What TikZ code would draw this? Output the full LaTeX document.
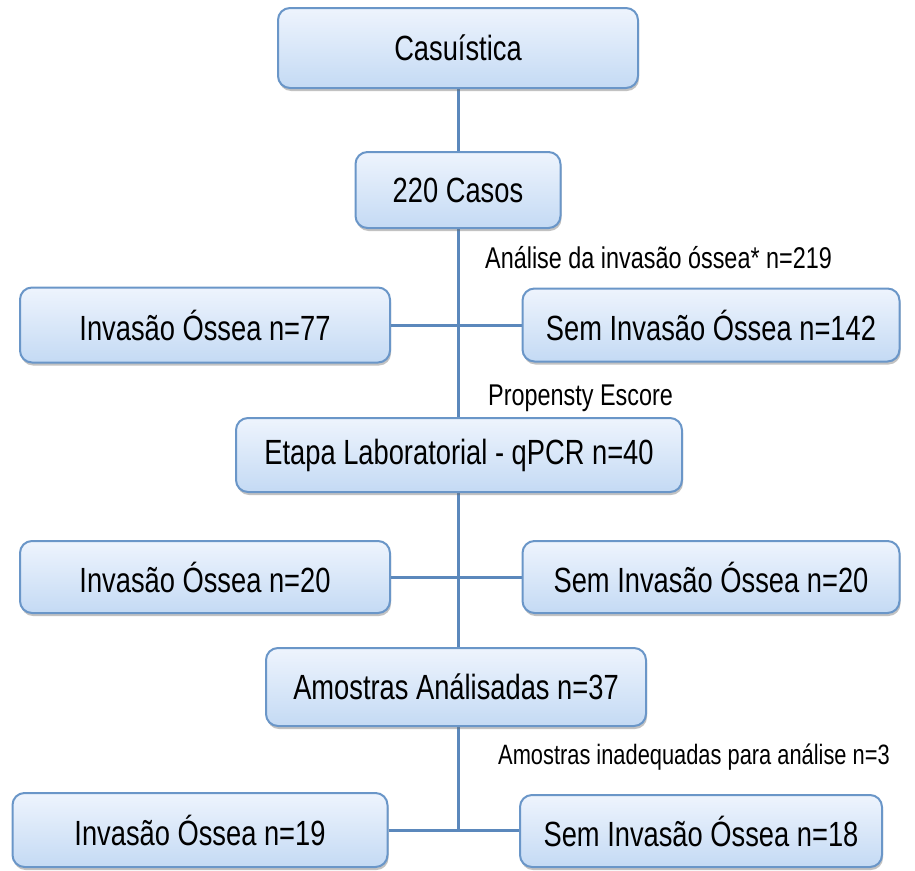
\documentclass[tikz,border=0pt]{standalone}
\usepackage{fontspec}
\setmainfont[FakeStretch=0.78]{Liberation Sans}
\usetikzlibrary{shadows,backgrounds}

\definecolor{boxline}{HTML}{6A96C8}
\definecolor{boxtop}{HTML}{EEF4FD}
\definecolor{boxbot}{HTML}{C4DAF4}
\definecolor{linkblue}{HTML}{5B88BC}

\tikzset{
  caixa/.style={draw=boxline, line width=2pt, rounded corners=12pt,
    top color=boxtop, bottom color=boxbot, inner sep=0pt,
    drop shadow={shadow xshift=1pt, shadow yshift=-3pt, opacity=0.4, fill=black!60},
    font=\fontsize{35}{40}\selectfont},
  nota/.style={anchor=west, inner sep=0pt, font=\fontsize{30}{34}\selectfont},
  ligacao/.style={draw=linkblue, line width=3pt}
}

\begin{document}
\begin{tikzpicture}[x=1pt, y=-1pt]
        \useasboundingbox (0,0) rectangle (915,870);

        % Caixas
        \node[caixa, minimum width=360pt, minimum height=80pt] (casuistica) at (458,48) {Casuística};
        \node[caixa, minimum width=205pt, minimum height=76pt] (casos) at (458,190) {220 Casos};
        \node[caixa, minimum width=370pt, minimum height=75pt] (invasao77) at (205,325) {Invasão Óssea n=77};
        \node[caixa, minimum width=377pt, minimum height=73pt] (seminvasao142) at (711,325) {Sem Invasão Óssea n=142};
        \node[caixa, minimum width=446pt, minimum height=74pt] (etapa) at (459,455) {Etapa Laboratorial - qPCR n=40};
        \node[caixa, minimum width=370pt, minimum height=72pt] (invasao20) at (205,577) {Invasão Óssea n=20};
        \node[caixa, minimum width=377pt, minimum height=72pt] (seminvasao20) at (711,577) {Sem Invasão Óssea n=20};
        \node[caixa, minimum width=380pt, minimum height=78pt] (amostras) at (456,687) {Amostras Análisadas n=37};
        \node[caixa, minimum width=375pt, minimum height=74pt] (invasao19) at (200,830) {Invasão Óssea n=19};
        \node[caixa, minimum width=362pt, minimum height=72pt] (seminvasao18) at (701,831) {Sem Invasão Óssea n=18};

        % Textos
        \node[nota] (analise) at (485,258) {Análise da invasão óssea* n=219};
        \node[nota] (escore) at (488,398) {Propensty Escore};
        \node[nota, font=\fontsize{28}{32}\selectfont] (inadequadas) at (498,757) {Amostras inadequadas para análise n=3};

        % Ligacoes
        \begin{scope}[on background layer]
        \draw[ligacao] (casuistica) -- (casos);
        \draw[ligacao] (casos) -- (casos |- etapa.north);
        \draw[ligacao] (invasao77) -- (seminvasao142);
        \draw[ligacao] (etapa.south -| casos) -- (casos |- amostras.north);
        \draw[ligacao] (invasao20) -- (seminvasao20);
        \draw[ligacao] (invasao19.east) -- (invasao19.east -| seminvasao18.west);
        \draw[ligacao] (casos |- amostras.south) -- (casos |- invasao19.east);
        \end{scope}
\end{tikzpicture}
\end{document}
